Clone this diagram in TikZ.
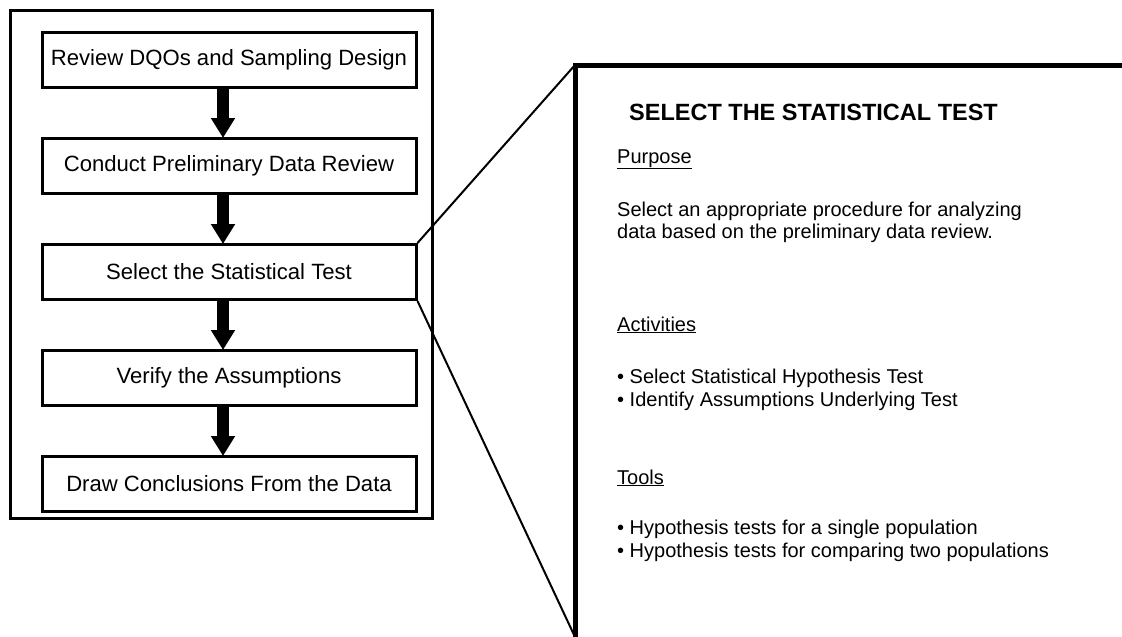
\documentclass[tikz,border=0pt]{standalone}
\usepackage{fontspec}
\setmainfont{Liberation Sans}
\usetikzlibrary{positioning, calc, arrows.meta}

\tikzset{
  stepbox/.style={draw, line width=3pt, minimum width=374pt, minimum height=55pt,
    inner sep=0pt, font=\fontsize{22.1}{26}\selectfont},
  blockarrow/.style={line width=12pt, -{Triangle[width=23pt,length=20pt]}, shorten >=-1pt},
  paneltext/.style={anchor=base west, inner sep=0pt, align=left,
    font=\fontsize{20}{22.5}\selectfont},
}

\begin{document}
\begin{tikzpicture}[x=1pt,y=-1pt]
  \useasboundingbox (0,0) rectangle (1122,637);
  % outer frame
  \draw[line width=3pt] (10,10) rectangle (432,518);
  % steps
  \node[stepbox] (review) at (229,60) {Review DQOs and Sampling Design};
  \node[stepbox, below=48pt of review] (conduct) {Conduct Preliminary Data Review};
  \node[stepbox, below=48pt of conduct] (select) {Select the Statistical Test};
  \node[stepbox, below=48pt of select] (verify) {Verify the Assumptions};
  \node[stepbox, below=48pt of verify] (draw) {Draw Conclusions From the Data};
  \foreach \a/\b in {review/conduct, conduct/select, select/verify, verify/draw}
    \draw[blockarrow] ([xshift=-6pt]\a.south) -- ([xshift=-6pt]\b.north);
  % zoom panel
  \coordinate (ptop) at (575,65);
  \coordinate (pbot) at (575,637);
  \draw[line width=5pt] (1122,65) -- (ptop) -- (pbot);
  \draw[line width=2pt] (select.north east) -- (ptop);
  \draw[line width=2pt] (select.south east) -- (pbot);
  % panel text (anchored at the baseline of the last line)
  \node[paneltext, font=\bfseries\fontsize{23.5}{26}\selectfont] (title) at (629,120)
    {SELECT THE STATISTICAL TEST};
  \node[paneltext] (purpose) at (617,163) {\underline{Purpose}};
  \node[paneltext] (purposetxt) at (617,238.5)
    {Select an appropriate procedure for analyzing\\data based on the preliminary data review.};
  \node[paneltext] (activities) at (617,331) {\underline{Activities}};
  \node[paneltext] (actlist) at (617,406)
    {\textbullet\ Select Statistical Hypothesis Test\\\textbullet\ Identify Assumptions Underlying Test};
  \node[paneltext] (tools) at (617,484) {\underline{Tools}};
  \node[paneltext] (toollist) at (617,557)
    {\textbullet\ Hypothesis tests for a single population\\\textbullet\ Hypothesis tests for comparing two populations};
\end{tikzpicture}
\end{document}
